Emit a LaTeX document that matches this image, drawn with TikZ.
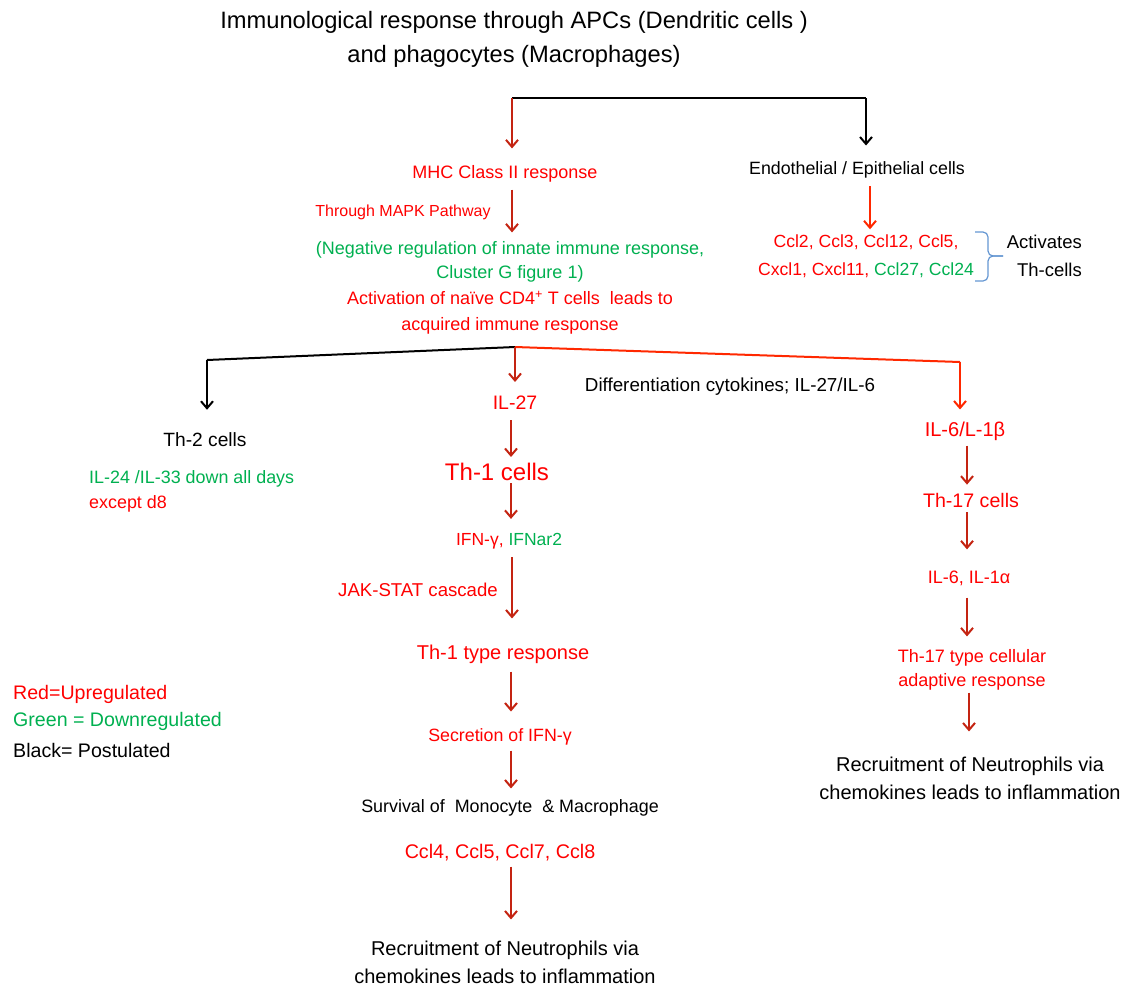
\documentclass[tikz,border=0pt]{standalone}
\usepackage{fontspec}
\setmainfont{Liberation Sans}
\usetikzlibrary{arrows.meta,calc}
\definecolor{upred}{RGB}{255,0,0}
\definecolor{downgreen}{RGB}{0,176,80}
\definecolor{arrred}{RGB}{196,36,18}
\definecolor{linered}{RGB}{255,40,0}
\definecolor{bracecol}{RGB}{100,150,210}
\newcommand{\fsz}[2]{\fontsize{#1}{#2}\selectfont}
\tikzset{
  txt/.style={inner sep=1pt, align=center},
  redtxt/.style={txt, text=upred},
  greentxt/.style={txt, text=downgreen},
  tip/.style={-{Straight Barb[length=7pt,width=12pt]}},
  redarr/.style={draw=arrred, line width=2pt, tip},
  orarr/.style={draw=linered, line width=2pt, tip},
  blkarr/.style={draw=black, line width=2pt, tip},
  blkline/.style={draw=black, line width=2pt},
  orline/.style={draw=linered, line width=2pt},
  bracestyle/.style={draw=bracecol, line width=1.2pt, rounded corners=5pt},
}
\begin{document}
\begin{tikzpicture}[x=1pt,y=-1pt]
\useasboundingbox (0,0) rectangle (1129,988);

% title
\node[txt, font=\fsz{23.7}{34}] (title) at (514,39) {Immunological response through APCs (Dendritic cells )\\ and phagocytes (Macrophages)};

% left top branch
\node[redtxt, font=\fsz{18}{22}] (mhc) at (505,174) {MHC Class II response};
\node[redtxt, font=\fsz{16}{19}] (mapk) at (403,212) {Through MAPK Pathway};
\node[greentxt, font=\fsz{18}{24}] (neg) at (510,262) {(Negative regulation of innate immune response,\\Cluster G figure 1)};
\node[redtxt, font=\fsz{18}{26}] (act) at (510,313) {Activation of naïve CD4\textsuperscript{+} T cells \ leads to\\acquired immune response};

% right top branch
\node[txt, font=\fsz{17.8}{21}] (endo) at (857,170) {Endothelial / Epithelial cells};
\node[redtxt, font=\fsz{17.6}{28}] (chem) at (866,256) {Ccl2, Ccl3, Ccl12, Ccl5,\\Cxcl1, Cxcl11, \textcolor{downgreen}{Ccl27, Ccl24}};
\node[txt, align=right, anchor=east, font=\fsz{18.5}{28}] (actv) at (1083,256) {Activates\\Th-cells};

% top connectors
\coordinate (t0) at (512,98);
\coordinate (t1) at (866,98);
\draw[blkline] (t0) -- (t1);
\draw[blkarr, shorten >=15pt] (t1) -- (t1 |- endo.north);
\draw[redarr, shorten >=16pt] (t0) -- (t0 |- mhc.north);
\coordinate (cm) at (512,0);
\draw[redarr, shorten <=6pt, shorten >=8pt] (cm |- mhc.south) -- (cm |- neg.north);
\coordinate (ce) at (870,0);
\draw[orarr, shorten <=7pt, shorten >=4pt] (ce |- endo.south) -- (ce |- chem.north);

% brace
\coordinate (btip) at (1003,256);
\draw[bracestyle] (975,232) -| (988,256) -- (btip);
\draw[bracestyle] (975,281) -| (988,256) -- (btip);

% middle level
\node[txt, font=\fsz{18.8}{22}] (diff) at (730,387) {Differentiation cytokines; IL-27/IL-6};
\node[txt, font=\fsz{19.2}{22}] (th2) at (205,440) {Th-2 cells};
\node[txt, align=left, anchor=west, font=\fsz{17.9}{25}] (il24) at (88,491) {\textcolor{downgreen}{IL-24 /IL-33 down all days}\\\textcolor{upred}{except d8}};

% Th-1 chain
\node[redtxt, font=\fsz{19.5}{22}] (il27) at (515,403) {IL-27};
\node[redtxt, font=\fsz{24}{28}] (th1) at (497,472) {Th-1 cells};
\node[redtxt, font=\fsz{17.5}{20}] (ifn) at (509,541) {IFN-γ, \textcolor{downgreen}{IFNar2}};
\node[redtxt, font=\fsz{18.6}{22}] (jak) at (418,590) {JAK-STAT cascade};
\node[redtxt, font=\fsz{20}{24}] (th1t) at (503,654) {Th-1 type response};
\node[redtxt, font=\fsz{17.8}{21}] (sec) at (500,737) {Secretion of IFN-γ};
\node[txt, font=\fsz{17.9}{20}] (surv) at (510,808) {Survival of \ Monocyte \ \& Macrophage};
\node[redtxt, font=\fsz{19.7}{23}] (ccl4) at (500,853) {Ccl4, Ccl5, Ccl7, Ccl8};
\node[txt, font=\fsz{20}{28}] (rec) at (505,962) {Recruitment of Neutrophils via\\chemokines leads to inflammation};

% Th-17 chain
\node[redtxt, font=\fsz{20}{22}] (il6) at (965,431) {IL-6/L-1β};
\node[redtxt, font=\fsz{19.6}{23}] (th17) at (971,500) {Th-17 cells};
\node[redtxt, font=\fsz{18}{22}] (il6b) at (969,578) {IL-6, IL-1α};
\node[redtxt, font=\fsz{18}{24}] (th17t) at (972,670) {Th-17 type cellular\\adaptive response};
\node[txt, font=\fsz{20}{28}] (rrec) at (970,778) {Recruitment of Neutrophils via\\chemokines leads to inflammation};

% legend
\node[txt, anchor=west, text=upred, font=\fsz{19.6}{22}] (lg1) at (12,694) {Red=Upregulated};
\node[txt, anchor=west, text=downgreen, font=\fsz{19.6}{22}] (lg2) at (12,721) {Green = Downregulated};
\node[txt, anchor=west, font=\fsz{19.6}{22}] (lg3) at (12,750) {Black= Postulated};

% lower bracket
\coordinate (b0) at (515,347);
\coordinate (bl) at (207,360);
\coordinate (br) at (960,362);
\draw[blkline] (b0) -- (bl);
\draw[blkarr, shorten >=22pt] (bl) -- (bl |- th2.north);
\draw[orline] (b0) -- (br);
\draw[orarr, shorten >=11pt] (br) -- (br |- il6.north);
\draw[redarr, shorten >=13pt] (b0) -- (b0 |- il27.north);

% Th-1 chain arrows
\coordinate (c1) at (511,0);
\coordinate (c2) at (512,0);
\draw[redarr, shorten <=9pt, shorten >=5pt] (c1 |- il27.south) -- (c1 |- th1.north);
\draw[redarr, shorten <=1pt, shorten >=13pt] (c1 |- th1.south) -- (c1 |- ifn.north);
\draw[redarr, shorten <=7pt, shorten >=25pt] (c2 |- ifn.south) -- (c2 |- th1t.north);
\draw[redarr, shorten <=7pt, shorten >=16pt] (c1 |- th1t.south) -- (c1 |- sec.north);
\draw[redarr, shorten <=4pt, shorten >=10pt] (c1 |- sec.south) -- (c1 |- surv.north);
\draw[redarr, shorten <=4pt, shorten >=20pt] (c1 |- ccl4.south) -- (c1 |- rec.north);

% Th-17 chain arrows
\coordinate (c3) at (967,0);
\coordinate (c4) at (969,0);
\draw[redarr, shorten <=4pt, shorten >=7pt] (c3 |- il6.south) -- (c3 |- th17.north);
\draw[redarr, shorten <=4pt, shorten >=20pt] (c3 |- th17.south) -- (c3 |- il6b.north);
\draw[redarr, shorten <=11pt, shorten >=12pt] (c3 |- il6b.south) -- (c3 |- th17t.north);
\draw[redarr, shorten <=1pt, shorten >=24pt] (c4 |- th17t.south) -- (c4 |- rrec.north);
\end{tikzpicture}
\end{document}
